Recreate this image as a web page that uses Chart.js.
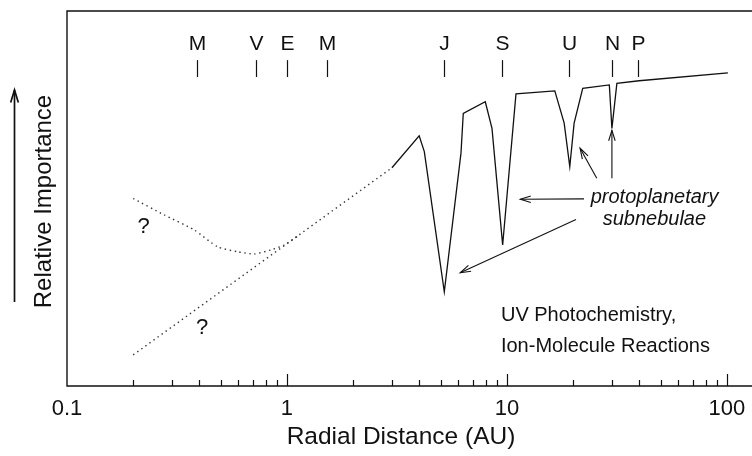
<!DOCTYPE html>
<html>
<head>
<meta charset="utf-8">
<script src="https://cdn.jsdelivr.net/npm/chart.js@4.4.1/dist/chart.umd.min.js"></script>
<style>
  html, body { margin: 0; padding: 0; background: #fff; }
  #wrap { width: 752px; height: 456px; }
</style>
</head>
<body>
<div id="wrap"><canvas id="chart"></canvas></div>
<script>
// solid curve (outer disk) with the dips of the protoplanetary subnebulae
const outerAU = [3.0, 3.99, 4.21, 5.19, 6.18, 6.33, 7.97, 8.55, 9.56, 10.99, 16.5, 18.2, 19.3, 20.2, 22.1, 29.2, 30.0, 31.6, 39.9, 101];
const outerImportance = [58.2, 66.7, 62.5, 25.1, 62.1, 72.7, 75.8, 68.7, 37.6, 77.9, 78.7, 70.1, 58.5, 70.1, 79.4, 80.3, 68.7, 80.7, 81.4, 83.5];

// dotted guesses for the inner disk
const upperAU = [0.2, 0.277, 0.379, 0.484, 0.597, 0.71, 0.846, 0.972, 1.12];
const upperImportance = [50.0, 45.6, 41.6, 37.1, 35.8, 35.2, 36.3, 37.6, 40.0];
const lowerAU = [0.2, 3.0];
const lowerImportance = [8.3, 58.2];

const planetNames = ["M", "V", "E", "M", "J", "S", "U", "N", "P"];
const planetAU = [0.39, 0.72, 1.0, 1.52, 5.2, 9.54, 19.2, 30.1, 39.5];

const majorTicks = [0.1, 1, 10, 100];

// annotations, in data units
const notes = [
  { text: "?", x: 0.223, y: 40.8, align: "center", italic: false },
  { text: "?", x: 0.411, y: 13.9, align: "center", italic: false },
  { text: "protoplanetary", x: 46.9, y: 48.7, align: "center", italic: true },
  { text: "subnebulae", x: 46.8, y: 42.9, align: "center", italic: true },
  { text: "UV Photochemistry,", x: 9.39, y: 17.3, align: "left", italic: false },
  { text: "Ion-Molecule Reactions", x: 9.39, y: 9.1, align: "left", italic: false },
];
const pointers = [
  { from: [22.4, 49.9], to: [11.5, 49.8] },
  { from: [20.6, 44.4], to: [6.13, 30.2] },
  { from: [25.6, 55.4], to: [21.5, 63.4] },
  { from: [30.0, 55.4], to: [30.0, 68.2] },
];

const FONT = "'Liberation Sans', Arial, Helvetica, sans-serif";

function pairs(xs, ys) {
  return xs.map((x, i) => ({ x: x, y: ys[i] }));
}

function arrow(ctx, x1, y1, x2, y2, head, spread) {
  ctx.beginPath();
  ctx.moveTo(x1, y1);
  ctx.lineTo(x2, y2);
  ctx.stroke();
  const a = Math.atan2(y2 - y1, x2 - x1);
  ctx.beginPath();
  ctx.moveTo(x2 - head * Math.cos(a - spread), y2 - head * Math.sin(a - spread));
  ctx.lineTo(x2, y2);
  ctx.lineTo(x2 - head * Math.cos(a + spread), y2 - head * Math.sin(a + spread));
  ctx.stroke();
}

// all the minor/major positions of the log axis
const axisTicks = [];
for (let d = 0.1; d < 150; d *= 10) {
  for (let m = 1; m <= 9; m++) {
    const v = +(m * d).toPrecision(3);
    if (v <= 100) axisTicks.push(v);
  }
}

const decorations = {
  id: "decorations",
  afterDraw(chart) {
    const ctx = chart.ctx;
    const area = chart.chartArea;
    const xs = chart.scales.x;
    const ys = chart.scales.y;
    ctx.save();
    ctx.strokeStyle = "#111";
    ctx.fillStyle = "#111";

    // frame: top, left, bottom
    ctx.lineWidth = 1.4;
    ctx.beginPath();
    ctx.moveTo(chart.width, area.top);
    ctx.lineTo(area.left, area.top);
    ctx.lineTo(area.left, area.bottom);
    ctx.lineTo(chart.width, area.bottom);
    ctx.stroke();

    // inward ticks on the x axis
    ctx.lineWidth = 1.2;
    axisTicks.forEach(v => {
      if (v === 0.1) return;
      const px = Math.round(xs.getPixelForValue(v)) + 0.5;
      const len = majorTicks.includes(v) ? 12 : 6;
      ctx.beginPath();
      ctx.moveTo(px, area.bottom);
      ctx.lineTo(px, area.bottom - len);
      ctx.stroke();
    });

    // planets along the top
    ctx.font = "21px " + FONT;
    ctx.textAlign = "center";
    ctx.textBaseline = "alphabetic";
    planetAU.forEach((au, i) => {
      const px = Math.round(xs.getPixelForValue(au)) + 0.5;
      ctx.beginPath();
      ctx.moveTo(px, ys.getPixelForValue(86.9));
      ctx.lineTo(px, ys.getPixelForValue(82.4));
      ctx.stroke();
      ctx.fillText(planetNames[i], px, ys.getPixelForValue(89.6));
    });

    // text notes
    notes.forEach(n => {
      ctx.font = (n.italic ? "italic " : "") + (n.text === "?" ? "22px " : "20px ") + FONT;
      ctx.textAlign = n.align;
      ctx.fillText(n.text, xs.getPixelForValue(n.x), ys.getPixelForValue(n.y));
    });

    // pointer arrows
    ctx.lineWidth = 1.1;
    pointers.forEach(p => {
      arrow(ctx,
        xs.getPixelForValue(p.from[0]), ys.getPixelForValue(p.from[1]),
        xs.getPixelForValue(p.to[0]), ys.getPixelForValue(p.to[1]), 11, 0.3);
    });

    // x axis title (sits a little left of the plot centre)
    ctx.font = "24.5px " + FONT;
    ctx.textAlign = "center";
    ctx.textBaseline = "middle";
    ctx.fillText("Radial Distance (AU)", 401, 437);

    // y axis title with its arrow
    const cy = (area.top + area.bottom) / 2 + 3;
    ctx.save();
    ctx.translate(44, cy);
    ctx.rotate(-Math.PI / 2);
    ctx.font = "24px " + FONT;
    ctx.fillText("Relative Importance", 0, 0);
    ctx.restore();
    ctx.lineWidth = 1.7;
    arrow(ctx, 14.5, 302, 14.5, 90, 13, 0.3);

    ctx.restore();
  }
};

const ctx = document.getElementById("chart");
new Chart(ctx, {
  type: "scatter",
  data: {
    datasets: [
      {
        data: pairs(outerAU, outerImportance),
        showLine: true,
        borderColor: "#111",
        borderWidth: 1.3,
        pointRadius: 0,
        tension: 0,
      },
      {
        data: pairs(upperAU, upperImportance),
        showLine: true,
        borderColor: "#333",
        borderWidth: 1.4,
        borderDash: [1.4, 3.6],
        pointRadius: 0,
        tension: 0.2,
      },
      {
        data: pairs(lowerAU, lowerImportance),
        showLine: true,
        borderColor: "#333",
        borderWidth: 1.4,
        borderDash: [1.4, 3.6],
        pointRadius: 0,
      },
    ],
  },
  options: {
    responsive: true,
    maintainAspectRatio: false,
    animation: false,
    layout: { padding: { left: 67, top: 11, right: 0, bottom: 0 } },
    plugins: {
      legend: { display: false },
      tooltip: { enabled: false },
    },
    scales: {
      x: {
        type: "logarithmic",
        min: 0.1,
        max: 130,
        grid: { display: false, drawTicks: false },
        border: { display: false },
        afterBuildTicks: scale => {
          scale.ticks = axisTicks.map(v => ({ value: v }));
        },
        afterFit: scale => {
          scale.height = 70;
          scale.paddingLeft = 0;
          scale.paddingRight = 0;
        },
        ticks: {
          autoSkip: false,
          maxRotation: 0,
          padding: 10,
          color: "#111",
          font: { family: FONT, size: 22 },
          callback: v => (majorTicks.includes(v) ? String(v) : ""),
        },
        title: { display: false },
      },
      y: {
        display: false,
        min: 0,
        max: 100,
      },
    },
  },
  plugins: [decorations],
});
</script>
</body>
</html>
